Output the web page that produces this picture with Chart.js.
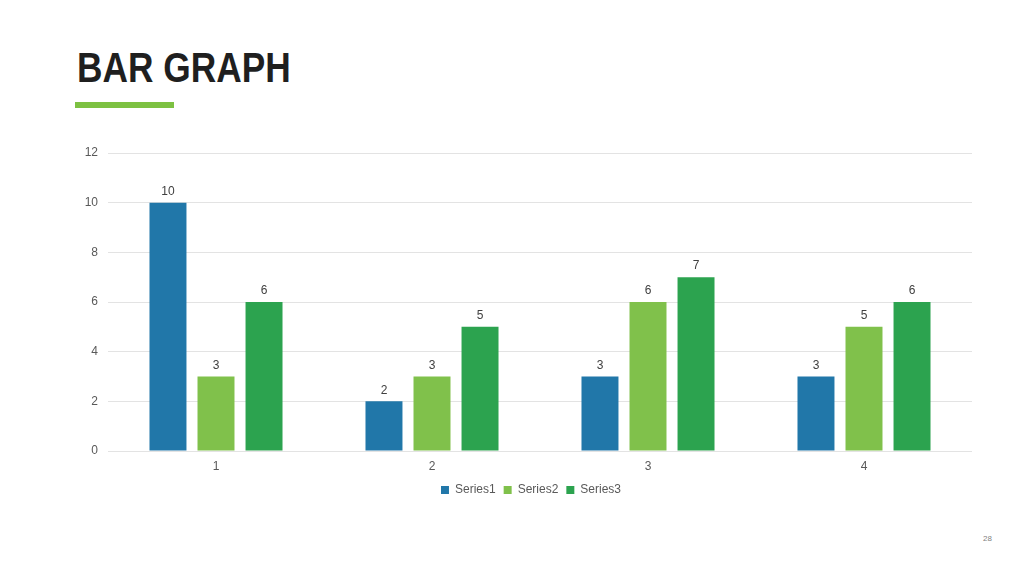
<!DOCTYPE html>
<html>
<head>
<meta charset="utf-8">
<script src="https://cdn.jsdelivr.net/npm/chart.js@4"></script>
<style>
  html, body { margin: 0; padding: 0; background: #fff; }
  body { width: 1024px; height: 576px; position: relative; overflow: hidden; font-family: "Liberation Sans", Arial, sans-serif; }
  #title { position: absolute; left: 77px; top: 44px; font-family: "Liberation Sans Narrow", "Liberation Sans", Arial, sans-serif; font-weight: bold; font-size: 42px; color: #1f1f1f; transform: scaleX(0.84); transform-origin: left top; white-space: nowrap; }
  #bar { position: absolute; left: 75px; top: 102px; width: 99px; height: 6px; background: #7dc142; }
  #page { position: absolute; left: 983px; top: 534px; font-size: 8px; color: #7f7f7f; }
  #wrap { position: absolute; left: 0; top: 0; width: 1024px; height: 576px; }
</style>
</head>
<body>
<div id="title">BAR GRAPH</div>
<div id="bar"></div>
<div id="page">28</div>
<div id="wrap"><canvas id="c"></canvas></div>
<script>
const categories = ['1', '2', '3', '4'];
const series1 = [10, 2, 3, 3];
const series2 = [3, 3, 6, 5];
const series3 = [6, 5, 7, 6];
const seriesNames = ['Series1', 'Series2', 'Series3'];
const colors = ['#2177a9', '#80c14b', '#2ca34f'];

// numbers above bars
const valueLabels = {
  id: 'valueLabels',
  afterDatasetsDraw(chart) {
    let ctx = chart.ctx;
    ctx.save();
    ctx.font = '12px "Liberation Sans", Arial, sans-serif';
    ctx.fillStyle = '#404040';
    ctx.textAlign = 'center';
    ctx.textBaseline = 'bottom';
    chart.data.datasets.forEach((ds, i) => {
      chart.getDatasetMeta(i).data.forEach((el, j) => {
        ctx.fillText(ds.data[j], el.x, el.y - 5);
      });
    });
    ctx.restore();
  }
};

// legend sits a bit left of the plot centre, like the original slide
const legendShift = {
  id: 'legendShift',
  afterLayout(chart) {
    let lg = chart.legend;
    let d = (chart.chartArea.left + chart.chartArea.right) / 2 - (lg.left + lg.right) / 2 - 9;
    lg.left += d;
    lg.right += d;
  }
};

new Chart(document.getElementById('c'), {
  type: 'bar',
  data: {
    labels: categories,
    datasets: [series1, series2, series3].map((d, i) => ({
      label: seriesNames[i],
      data: d,
      backgroundColor: colors[i],
      categoryPercentage: 0.667,
      barPercentage: 0.77
    }))
  },
  options: {
    responsive: true,
    maintainAspectRatio: false,
    animation: false,
    layout: { padding: { left: 62, right: 52, top: 153, bottom: 70 } },
    plugins: {
      legend: {
        position: 'bottom',
        labels: {
          boxWidth: 8, boxHeight: 8, padding: 8,
          color: '#595959',
          font: { size: 12, family: '"Liberation Sans", Arial, sans-serif' }
        }
      },
      tooltip: { enabled: false }
    },
    scales: {
      x: {
        grid: { display: false },
        border: { display: false },
        ticks: { color: '#595959', padding: 0, font: { size: 12, family: '"Liberation Sans", Arial, sans-serif' } },
        afterFit: axis => { axis.height = 25; }
      },
      y: {
        min: 0, max: 12,
        ticks: { stepSize: 2, color: '#595959', padding: 10, font: { size: 12, family: '"Liberation Sans", Arial, sans-serif' } },
        grid: { color: '#e3e3e3', drawTicks: false },
        border: { display: false },
        afterFit: axis => { axis.width = 46; }
      }
    }
  },
  plugins: [valueLabels, legendShift]
});
</script>
</body>
</html>
